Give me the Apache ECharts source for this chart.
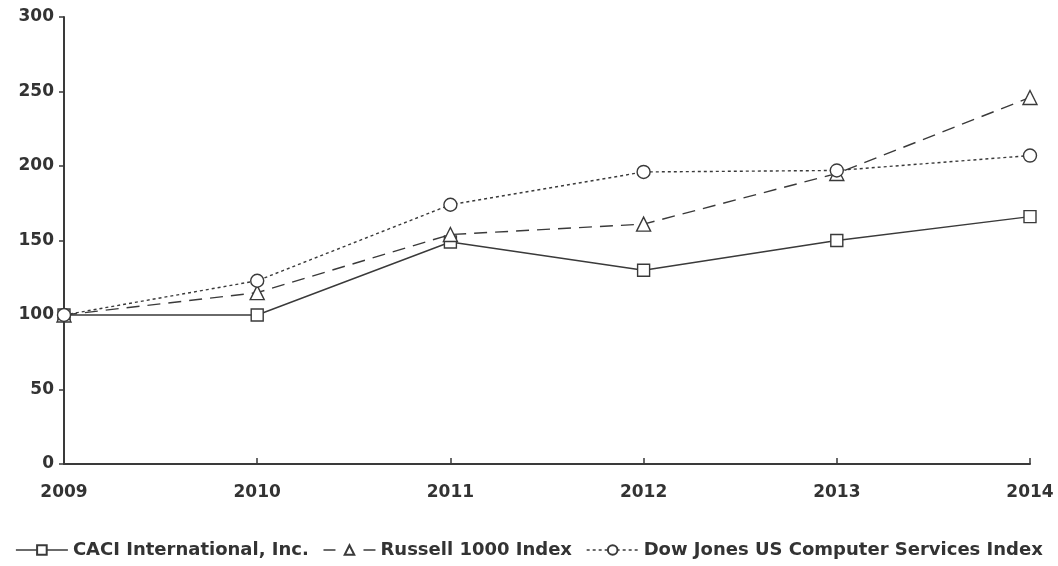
<!DOCTYPE html>
<html><head><meta charset="utf-8">
<script src="https://cdn.jsdelivr.net/npm/echarts@6/dist/echarts.min.js"></script>
<style>html,body{margin:0;padding:0;background:#fff}#c{width:1058px;height:566px}</style>
</head><body><div id="c"></div>
<script>
const years = ['2009','2010','2011','2012','2013','2014'];
const caci = [100, 100, 149, 130, 150, 166];
const russell = [100, 115, 154, 161, 195, 246];
const dowJones = [100, 123, 174, 196, 197, 207];
const yTicks = [0, 50, 100, 150, 200, 250, 300];
const names = ['CACI International, Inc.', 'Russell 1000 Index', 'Dow Jones US Computer Services Index'];

const col = '#3a3a3a';
const font = '"DejaVu Sans", sans-serif';
const dashes = ['solid', [13, 8], [3, 3]];
const legendDashes = ['solid', [12, 28], [3, 3]];
function mk(name, data, symbol, type, size) {
  return {
    name, type: 'line', data, symbol, symbolSize: size, showAllSymbol: true,
    lineStyle: { color: col, width: 1.4, type: type },
    itemStyle: { color: '#fff', borderColor: col, borderWidth: 1.4 },
    emphasis: { disabled: true }, animation: false
  };
}
const chart = echarts.init(document.getElementById('c'));
chart.setOption({
  animation: false,
  grid: { left: 64, right: 28, top: 17, bottom: 102 },
  xAxis: {
    type: 'category', data: years, boundaryGap: false,
    axisLine: { lineStyle: { color: col, width: 2 } },
    axisTick: { inside: true, length: 6, lineStyle: { color: col, width: 1.5 } },
    axisLabel: { color: '#333', fontFamily: font, fontWeight: 'bold', fontSize: 17, margin: 20, showMaxLabel: true, showMinLabel: true },
    splitLine: { show: false }
  },
  yAxis: {
    type: 'value', min: yTicks[0], max: yTicks[yTicks.length - 1], interval: 50,
    axisLine: { show: true, lineStyle: { color: col, width: 2 } },
    axisTick: { show: true, length: 5, lineStyle: { color: col, width: 1.5 } },
    axisLabel: { color: '#333', fontFamily: font, fontWeight: 'bold', fontSize: 17, margin: 10 },
    splitLine: { show: false }
  },
  legend: {
    bottom: 2, left: 'center', itemWidth: 52, itemHeight: 12, itemGap: 14,
    textStyle: { color: '#333', fontFamily: font, fontWeight: 'bold', fontSize: 18 },
    data: names.map((n, i) => ({ name: n, lineStyle: { type: legendDashes[i], width: 1.4, color: col } }))
  },
  series: [
    mk(names[0], caci, 'rect', dashes[0], 12),
    mk(names[1], russell, 'triangle', dashes[1], 14),
    mk(names[2], dowJones, 'circle', dashes[2], 13)
  ]
});
</script></body></html>
